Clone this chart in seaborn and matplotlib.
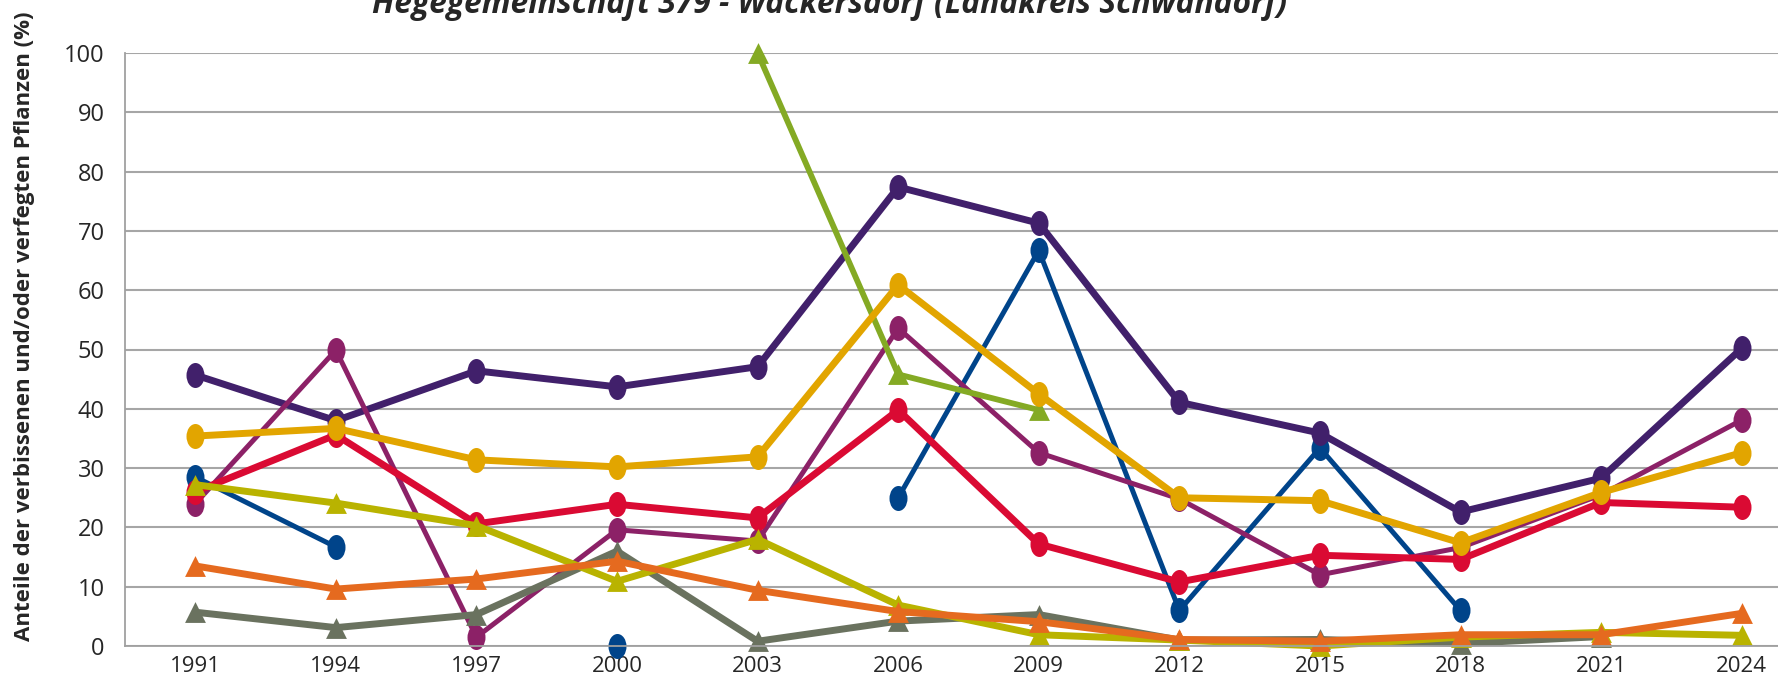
import matplotlib
matplotlib.use("Agg")
import matplotlib.pyplot as plt
from matplotlib import font_manager
from matplotlib.path import Path
import numpy as np
import pandas as pd
import seaborn as sns

# data (percent)
years = ["1991", "1994", "1997", "2000", "2003", "2006",
         "2009", "2012", "2015", "2018", "2021", "2024"]
nan = np.nan
blue = [28.5, 16.7, nan, 0.0, nan, 25.0, 66.7, 6.0, 33.4, 6.0, nan, nan]
dark_purple = [45.7, 38.0, 46.4, 43.7, 47.1, 77.4, 71.3, 41.1, 35.9, 22.6, 28.3, 50.2]
magenta = [24.0, 49.9, 1.5, 19.6, 17.7, 53.6, 32.6, 24.8, 12.0, 16.6, 25.5, 38.1]
red = [26.0, 35.6, 20.6, 23.9, 21.6, 39.8, 17.2, 10.8, 15.3, 14.6, 24.2, 23.4]
green = [nan, nan, nan, nan, 100.0, 45.8, 39.8, nan, nan, nan, nan, nan]
yellow = [35.4, 36.7, 31.4, 30.2, 31.9, 60.9, 42.5, 25.0, 24.5, 17.4, 25.9, 32.6]
gray = [5.7, 3.1, 5.3, 16.0, 0.8, 4.2, 5.3, 1.0, 1.1, 0.4, 1.6, nan]
olive = [27.2, 24.1, 20.3, 10.9, 18.0, 6.9, 1.9, 1.0, 0.0, 1.5, 2.3, 1.8]
orange = [13.5, 9.6, 11.3, 14.3, 9.4, 5.8, 4.1, 1.1, 0.8, 1.9, 1.9, 5.5]

title = "Hegegemeinschaft 379 - Wackersdorf (Landkreis Schwandorf)"
ylabel = "Anteile der verbissenen und/oder verfegten Pflanzen (%)"

sns.set_style("white")

installed = {f.name for f in font_manager.fontManager.ttflist}
def pick(*names):
    for n in names:
        if n in installed:
            return n
    return "DejaVu Sans"

narrow = pick("Liberation Sans Narrow", "Open Sans", "Lato")
wide = pick("Open Sans", "Noto Sans", "DejaVu Sans")
plt.rcParams["font.family"] = [wide, "DejaVu Sans"]

# Excel-like markers, taller than wide
circ = Path.unit_circle()
ellipse = Path(circ.vertices * [0.72, 1.0], circ.codes)
tri = Path([(-0.5, -0.5), (0.5, -0.5), (0.0, 0.5), (-0.5, -0.5)],
           [Path.MOVETO, Path.LINETO, Path.LINETO, Path.CLOSEPOLY])

# bottom -> top drawing order
series = [
    (blue, "#00448A", ellipse, 3.6),
    (dark_purple, "#41206B", ellipse, 5.0),
    (magenta, "#8C2167", ellipse, 3.6),
    (red, "#DA0A33", ellipse, 5.0),
    (green, "#84AA24", tri, 4.2),
    (yellow, "#E2A500", ellipse, 5.0),
    (gray, "#6A725F", tri, 5.0),
    (olive, "#B9B300", tri, 5.0),
    (orange, "#E56A1F", tri, 5.0),
]

W, H = 1778, 676
fig = plt.figure(figsize=(W / 100, H / 100), dpi=100)
# plot area runs past the right edge like in the cropped reference
ax = fig.add_axes([125 / W, 30 / H, 1687 / W, 593 / H])

for vals, col, mk, lw in series:
    df = pd.DataFrame({"pos": np.arange(len(years)), "val": vals})
    df["seg"] = df["val"].isna().cumsum()
    df = df.dropna()
    ms = 18 if mk is ellipse else 15
    sns.lineplot(data=df, x="pos", y="val", units="seg", estimator=None,
                 ax=ax, color=col, lw=lw, marker=mk, ms=ms, mew=0,
                 mec=col, clip_on=False, legend=False)

ax.set_xlim(-0.5, 11.5)
ax.set_ylim(0, 100)
ax.set_xlabel("")
ax.set_ylabel("")

ax.set_xticks(np.arange(-0.5, 12, 1))
ax.set_xticklabels([])
ax.set_xticks(np.arange(12), minor=True)
ax.set_xticklabels(years, minor=True, fontsize=16, family=[narrow, "DejaVu Sans"])
ax.tick_params(axis="x", which="major", length=24, width=1.2, color="#A0A0A0")
ax.tick_params(axis="x", which="minor", length=0, pad=7)

ax.set_yticks(np.arange(0, 101, 10))
ax.tick_params(axis="y", length=6, width=1.2, color="#A0A0A0", pad=8.5, labelsize=17)

ax.yaxis.grid(True, color="#A6A6A6", lw=1.5)
ax.set_axisbelow(True)
for s in ["top", "right"]:
    ax.spines[s].set_visible(False)
for s in ["left", "bottom"]:
    ax.spines[s].set_color("#A0A0A0")
    ax.spines[s].set_linewidth(1.3)

# fit text widths to the reference
renderer = fig.canvas.get_renderer()
t = fig.text(830 / W, 1 - 13 / H, title, ha="center", va="baseline",
             fontsize=20, fontweight="bold", fontstyle="italic",
             family=[narrow, "DejaVu Sans"])
w = t.get_window_extent(renderer).width
t.set_fontsize(20 * 913 / w)

yl = fig.text(25 / W, 1 - 326 / H, ylabel, rotation=90, ha="center", va="center",
              fontsize=13.5, fontweight="bold")
h = yl.get_window_extent(renderer).height
yl.set_fontsize(13.5 * 630 / h)

fig.savefig("out.png", dpi=100)
